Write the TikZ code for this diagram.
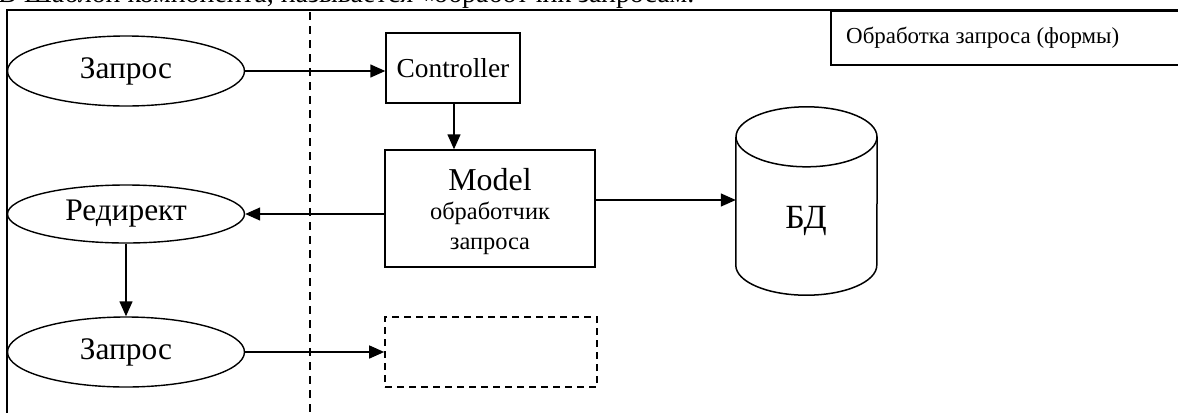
\documentclass[tikz,border=0pt]{standalone}
\usepackage{fontspec}
\setmainfont{Liberation Serif}
\usetikzlibrary{arrows.meta,shapes.geometric,calc}

\tikzset{
  line/.style={line width=1.4bp},
  flow/.style={line, -{Triangle[length=15bp,width=13bp]}},
  oval/.style={ellipse, draw, line width=1.4bp, minimum width=237bp, inner sep=0pt, font=\fontsize{31.5}{34}\selectfont},
  block/.style={rectangle, draw, line width=1.4bp, inner sep=0pt},
  ghost/.style={rectangle, draw, line width=1.6bp, dash pattern=on 7bp off 5bp, inner sep=0pt},
}

\begin{document}
\begin{tikzpicture}[x=1bp,y=-1bp]
  \useasboundingbox (0,0) rectangle (1178,412);
  \clip (0,0) rectangle (1178,412);

  % sentence of the surrounding page, cut at the top edge
  \node[anchor=base west, inner sep=0pt, font=\fontsize{28}{30}\selectfont] (pagetext) at (-2,2.5)
    {В Шаблон компонента, называется «обработчик запросам.};

  % outer frame (only top and left sides fall on the page)
  \draw[line width=2.6bp] (6,10) -- (1185,10);
  \draw[line width=2.2bp] (7,10) -- (7,420);

  % caption box
  \node[block, line width=1.6bp, minimum width=360bp, minimum height=54bp, anchor=north west] (cap) at (830,10) {};
  \node[font=\fontsize{23}{25}\selectfont, anchor=west, inner sep=0pt] (captext) at (846,38) {Обработка запроса (формы)};

  % client / server separator
  \draw[line width=1.5bp, dash pattern=on 8bp off 6bp] (310,12) -- (310,420);

  % left column
  \node[oval, minimum height=70bp] (req1) at (126,71) {Запрос};
  \node[oval, minimum height=58bp] (redir) at (126,214) {Редирект};
  \node[oval, minimum height=70bp] (req2) at (126,352) {Запрос};

  % right column
  \node[block, minimum width=134bp, minimum height=70bp, font=\fontsize{27.5}{30}\selectfont] (ctrl) at (453,68) {Controller};
  \node[block, minimum width=210bp, minimum height=117bp] (model) at (490,208.5) {};
  \node[align=center, inner sep=0pt, font=\fontsize{24.5}{29.5}\selectfont] (modeltext) at ($(model.center)+(0,3)$)
    {{\fontsize{32}{30}\selectfont Model}\\ обработчик\\ запроса};
  \node[ghost, minimum width=212bp, minimum height=70bp] (blank) at (491,352) {};

  % database cylinder
  \node[minimum width=141bp, minimum height=188bp, inner sep=0pt] (db) at (806.5,201) {};
  \draw[line width=1.5bp]
    ($(db.north west)+(0,30)$) -- ($(db.south west)+(0,-30)$)
    arc[start angle=180, end angle=360, x radius=70.5, y radius=-30]
    -- ($(db.north east)+(0,30)$);
  \draw[line width=1.5bp] ($(db.north)+(0,30)$) ellipse[x radius=70.5, y radius=30];
  \node[font=\fontsize{34}{36}\selectfont] (dbtext) at (806,221) {БД};

  % connectors
  \coordinate (ctrlout) at (ctrl.south -| 454,0);
  \coordinate (modelout) at ($(model.east)+(0,-8.5)$);
  \draw[flow] (req1.east) -- (req1.east -| ctrl.west);
  \draw[flow] (ctrlout) -- (ctrlout |- model.north);
  \draw[flow] (modelout) -- (modelout -| db.west);
  \draw[flow] (model.west |- redir.east) -- (redir.east);
  \draw[flow] (redir.south) -- (req2.north);
  \draw[flow] (req2.east) -- (req2.east -| blank.west);
\end{tikzpicture}
\end{document}
